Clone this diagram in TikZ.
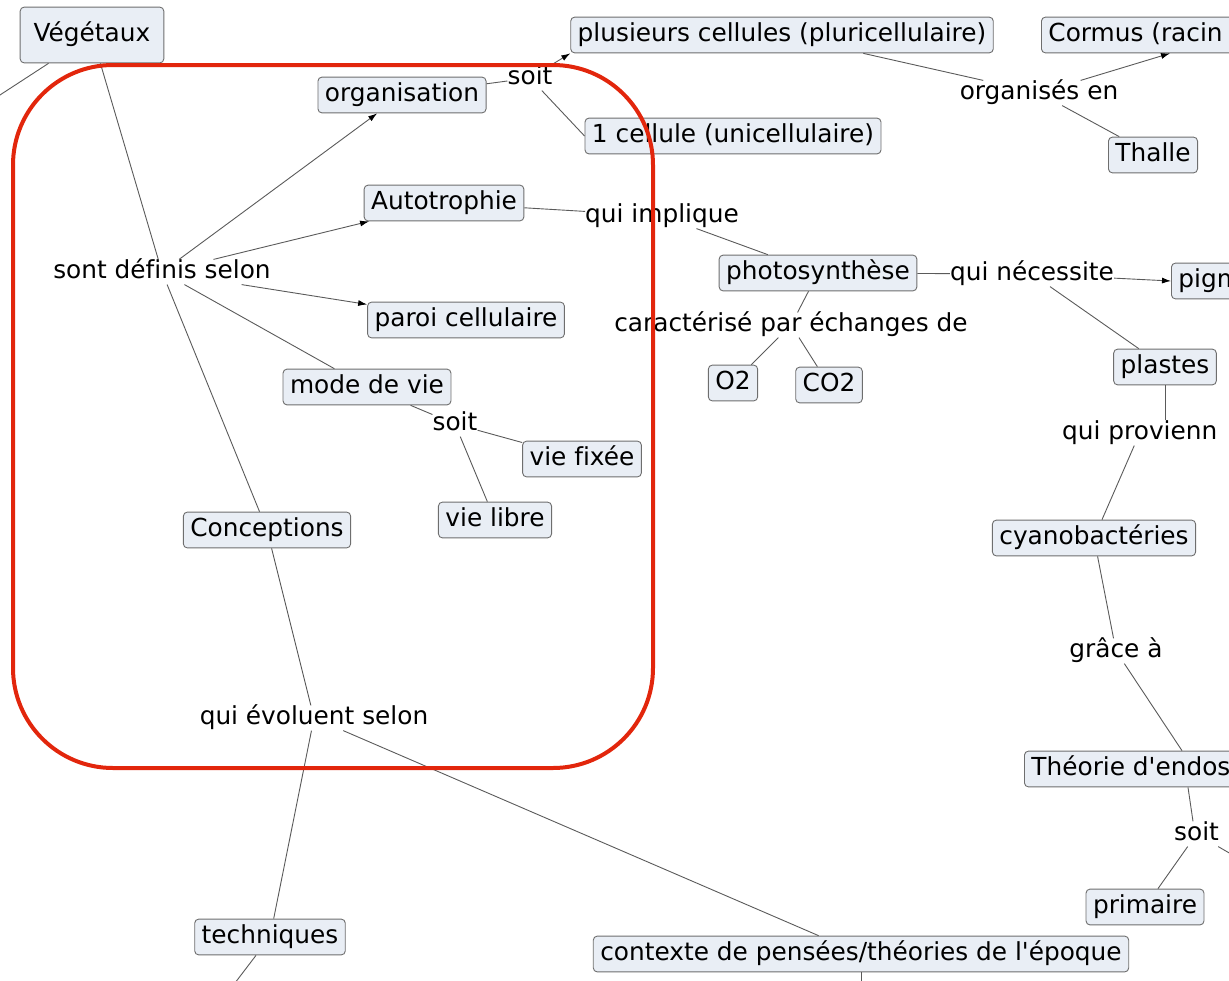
\documentclass[tikz,border=0pt]{standalone}
\usepackage{fontspec}
\setmainfont{DejaVu Sans}[Ligatures=NoCommon]
\usetikzlibrary{arrows.meta}
\definecolor{boxfill}{RGB}{233,238,245}
\definecolor{boxborder}{RGB}{110,110,110}
\definecolor{linegray}{RGB}{90,90,90}
\definecolor{framered}{RGB}{226,38,12}
\tikzset{
  box/.style={draw=boxborder, fill=boxfill, rounded corners=4pt, line width=0.9pt,
    inner xsep=7pt, inner ysep=5.5pt, text height=18.8pt, text depth=6pt},
  bigbox/.style={box, inner xsep=13.5pt, inner ysep=15.5pt},
  link/.style={inner sep=0pt, text height=18.8pt, text depth=6pt},
  conn/.style={draw=linegray, line width=0.9pt},
  arr/.style={conn, -{Latex[length=9pt,width=6pt,color=black]}},
  frame/.style={draw=framered, line width=4pt, rounded corners=100pt}
}
\begin{document}
\begin{tikzpicture}[x=1pt,y=-1pt,font=\fontsize{24.8}{29}\selectfont]
\useasboundingbox (0,0) rectangle (1229,980);
\clip (0,0) rectangle (1229,980);
% nodes
\node[bigbox] (vege) at (92,35) {Végétaux};
\node[link] (sont) at (162,272) {sont définis selon};
\node[box] (org) at (402,95) {organisation};
\node[link] (soitA) at (530,78) {soit};
\node[box] (plus) at (782,35) {plusieurs cellules (pluricellulaire)};
\node[box] (unic) at (733,136) {1 cellule (unicellulaire)};
\node[link] (orgen) at (1039,93) {organisés en};
\node[box, anchor=west] (cormus) at (1041,35) {Cormus (racin\hspace*{190pt}};
\node[box] (thalle) at (1153,155) {Thalle};
\node[box] (auto) at (444,203) {Autotrophie};
\node[link] (qimp) at (662,216) {qui implique};
\node[box] (photo) at (818,273) {photosynthèse};
\node[link] (qnec) at (1032,274) {qui nécessite};
\node[box, anchor=west] (pigm) at (1171,281) {pigm\hspace*{40pt}};
\node[box] (plastes) at (1165,367) {plastes};
\node[link] (carac) at (791,325) {caractérisé par échanges de};
\node[box] (otwo) at (733,383) {O2};
\node[box] (cotwo) at (829,385) {CO2};
\node[link, anchor=west] (qprov) at (1062,433) {qui provienn};
\node[box] (cyano) at (1094,538) {cyanobactéries};
\node[link] (grace) at (1116,651) {grâce à};
\node[box, anchor=west] (theo) at (1024,769) {Théorie d\textquotesingle endos\hspace*{40pt}};
\node[link, anchor=west] (soitC) at (1174,834) {soit};
\node[box] (prim) at (1145,907) {primaire};
\node[box] (paroi) at (466,320) {paroi cellulaire};
\node[box] (mode) at (367,387) {mode de vie};
\node[link] (soitB) at (455,424) {soit};
\node[box] (fixee) at (582,459) {vie fixée};
\node[box] (libre) at (495,520) {vie libre};
\node[box] (concep) at (267,530) {Conceptions};
\node[link] (evol) at (314,718) {qui évoluent selon};
\node[box] (tech) at (270,937) {techniques};
\node[box] (ctx) at (861,954) {contexte de pensées/théories de l\textquotesingle époque};
% free ends
\coordinate (offL) at (-20,108);
\coordinate (offT) at (222,1000);
\coordinate (offC) at (861,1000);
\coordinate (offS) at (1262,872);
% connectors
\draw[conn] (vege) -- (offL);
\draw[conn] (vege) -- (sont);
\draw[arr] (sont) -- (org);
\draw[arr] (sont) -- (auto);
\draw[arr] (sont) -- (paroi);
\draw[conn] (sont) -- (mode);
\draw[conn] (sont) -- (concep);
\draw[conn] (org) -- (soitA);
\draw[arr] (soitA) -- (plus.south west);
\draw[conn] (soitA) -- (unic.west);
\draw[conn] (plus) -- (orgen);
\draw[arr] (orgen) -- (cormus);
\draw[conn] (orgen) -- (thalle);
\draw[conn] (auto) -- (qimp);
\draw[conn] (qimp) -- (photo);
\draw[conn] (photo) -- (qnec);
\draw[arr] (qnec) -- (pigm.west);
\draw[conn] (qnec) -- (plastes);
\draw[conn] (photo) -- (carac);
\draw[conn] (carac) -- (otwo);
\draw[conn] (carac) -- (cotwo);
\draw[conn] (plastes.south) -- (qprov.north -| plastes.south);
\draw[conn] (qprov) -- (cyano);
\draw[conn] (cyano) -- (grace);
\draw[conn] (grace) -- (theo.north -| 1182,0);
\draw[conn] (theo.south -| 1188,0) -- (soitC.north -| 1193,0);
\draw[conn] (soitC) -- (prim);
\draw[conn] (soitC) -- (offS);
\draw[conn] (mode) -- (soitB);
\draw[conn] (soitB) -- (fixee);
\draw[conn] (soitB) -- (libre);
\draw[conn] (concep) -- (evol);
\draw[conn] (evol) -- (tech);
\draw[conn] (evol) -- (ctx);
\draw[conn] (tech) -- (offT);
\draw[conn] (ctx) -- (offC);
% red frame
\draw[frame] (13,65) rectangle (653,768);
\end{tikzpicture}
\end{document}
